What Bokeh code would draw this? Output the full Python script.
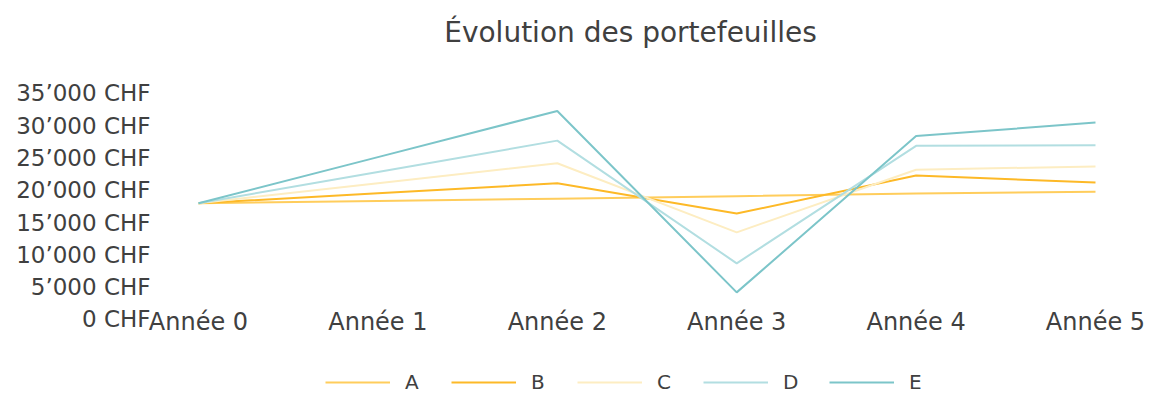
from bokeh.plotting import figure
from bokeh.models import FixedTicker, Legend, LegendItem, Range1d, Label, ColumnDataSource
from bokeh.core.properties import value
from bokeh.embed import file_html
from bokeh.resources import INLINE

years = ["Année 0", "Année 1", "Année 2", "Année 3", "Année 4", "Année 5"]
series_names = ["A", "B", "C", "D", "E"]
A = [18000, 18350, 18700, 19100, 19500, 19800]
B = [18000, 19550, 21100, 16400, 22300, 21200]
C = [18000, 21100, 24200, 13500, 23200, 23700]
D = [18000, 22850, 27700, 8700, 26900, 27000]
E = [18000, 25150, 32300, 4200, 28400, 30500]
colors = ["#FFCD5C", "#FDB927", "#FDEDC2", "#B2DEE1", "#7CC5C9"]
y_ticks = [0, 5000, 10000, 15000, 20000, 25000, 30000, 35000]
y_labels = ["0 CHF", "5’000 CHF", "10’000 CHF", "15’000 CHF", "20’000 CHF",
            "25’000 CHF", "30’000 CHF", "35’000 CHF"]
title_text = "Évolution des portefeuilles"

FONT = "DejaVu Sans"
TXT = "#404040"

p = figure(frame_width=1008, frame_height=393, output_backend="svg", toolbar_location=None,
           x_range=Range1d(-0.3344, 5.2843), y_range=Range1d(-11925, 48938),
           min_border_left=138, min_border_right=0, min_border_top=3, min_border_bottom=2)
p.outline_line_color = None
p.xgrid.visible = False
p.ygrid.visible = False
p.xaxis.visible = False

xs = list(range(len(years)))
renderers = []
for name, vals, col in zip(series_names, [A, B, C, D, E], colors):
    r = p.line(xs, vals, line_color=col, line_width=2)
    renderers.append((name, r))

# category labels under the value 0
src = ColumnDataSource(dict(x=xs, y=[0] * len(years), t=years))
p.text(x="x", y="y", text="t", source=src, text_align="center", text_baseline="top",
       y_offset=-11, text_font=value(FONT), text_color=TXT, text_font_size="24px")

yax = p.yaxis[0]
yax.axis_line_color = None
yax.major_tick_line_color = None
yax.minor_tick_line_color = None
yax.major_tick_out = 0
yax.major_tick_in = 0
yax.minor_tick_out = 0
yax.minor_tick_in = 0
yax.major_label_text_font = FONT
yax.major_label_text_color = TXT
yax.major_label_text_font_size = "23px"
yax.ticker = FixedTicker(ticks=y_ticks)
yax.major_label_overrides = {t: l for t, l in zip(y_ticks, y_labels)}
yax.major_label_standoff = -12

title = Label(x=2.408, y=44447, text=title_text, text_align="center", text_baseline="middle",
              text_font=FONT, text_color=TXT, text_font_size="28px")
p.add_layout(title)

legend = Legend(items=[LegendItem(label=n, renderers=[r]) for n, r in renderers],
                orientation="horizontal", location=(187, 2),
                padding=0, margin=0, spacing=26, glyph_width=65, glyph_height=20,
                label_standoff=15, border_line_color=None, background_fill_alpha=0,
                label_text_font=FONT, label_text_color=TXT, label_text_font_size="20px")
p.add_layout(legend, "center")

open("out.html", "w").write(file_html(p, INLINE))
